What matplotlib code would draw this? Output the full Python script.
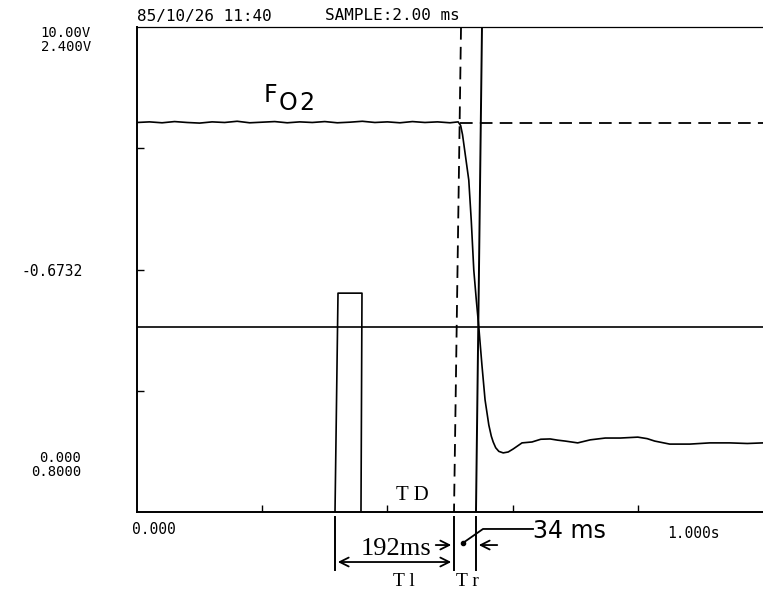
import matplotlib
matplotlib.use("Agg")
import matplotlib.pyplot as plt

# ---------------- data (time in s, signal in V on 0.8 .. 2.4 V scale) ----------------
t_trace = [0.000, 0.020, 0.040, 0.060, 0.080, 0.100, 0.120, 0.140, 0.160, 0.180,
           0.200, 0.220, 0.240, 0.260, 0.280, 0.300, 0.320, 0.340, 0.360, 0.380,
           0.400, 0.420, 0.440, 0.460, 0.480, 0.500, 0.513,
           0.517, 0.520, 0.524, 0.530, 0.534, 0.538, 0.542, 0.546, 0.551, 0.556,
           0.562, 0.566, 0.569, 0.573, 0.578, 0.585, 0.593, 0.601, 0.615, 0.631,
           0.645, 0.660, 0.672, 0.684, 0.704, 0.724, 0.748, 0.772, 0.800, 0.815,
           0.827, 0.851, 0.883, 0.915, 0.947, 0.975, 1.000]
v_trace = [2.085, 2.087, 2.084, 2.088, 2.085, 2.083, 2.087, 2.085, 2.089, 2.084,
           2.086, 2.088, 2.084, 2.087, 2.085, 2.088, 2.084, 2.086, 2.089, 2.085,
           2.087, 2.084, 2.088, 2.085, 2.087, 2.084, 2.087,
           2.075, 2.045, 1.985, 1.895, 1.760, 1.598, 1.500, 1.410, 1.285, 1.170,
           1.087, 1.050, 1.031, 1.012, 1.000, 0.995, 0.998, 1.008, 1.028, 1.031,
           1.040, 1.041, 1.037, 1.034, 1.028, 1.038, 1.044, 1.044, 1.047, 1.042,
           1.034, 1.024, 1.024, 1.028, 1.028, 1.026, 1.028]

# trigger pulse
t_pulse = [0.3163, 0.3211, 0.3594, 0.3578]
v_pulse = [0.800, 1.522, 1.522, 0.800]

# reference levels / markers
v_threshold = 1.410          # horizontal solid line
v_initial = 2.083            # horizontal dashed line (initial level)
t_dash_start = 0.516
t_dash_line = [0.5176, 0.5064]   # dashed vertical (top, bottom)
t_solid_line = [0.5511, 0.5415]  # solid vertical (top, bottom)

x_min, x_max = 0.0, 1.0
y_min, y_max = 0.8, 2.4
x_ticks = [0.2, 0.4, 0.6, 0.8]
y_ticks = [1.2, 1.6, 2.0]

# ---------------- figure ----------------
W, H = 763, 591
fig = plt.figure(figsize=(W / 100, H / 100), dpi=100)
ax = fig.add_axes([137 / W, 1 - 512 / H, 626 / W, 485 / H])
ax.set_xlim(x_min, x_max)
ax.set_ylim(y_min, y_max)

lw = 1.2
ax.plot(t_trace, v_trace, color="black", lw=lw)
ax.plot(t_pulse, v_pulse, color="black", lw=lw)
ax.plot([x_min, x_max], [v_threshold, v_threshold], color="black", lw=lw)
ax.plot([t_dash_start, x_max], [v_initial, v_initial], color="black", lw=1.3,
        dashes=(7, 4))
ax.plot(t_dash_line, [y_max, y_min], color="black", lw=1.3, dashes=(7, 4))
ax.plot(t_solid_line, [y_max, y_min], color="black", lw=1.4)

# extensions below the axis
ext_top, ext_bot = 0.785, 0.609
for xv in (t_pulse[0], t_dash_line[1], t_solid_line[1]):
    ax.plot([xv, xv], [ext_top, ext_bot], color="black", lw=1.4, clip_on=False)

# spines / ticks
for s in ("left", "bottom"):
    ax.spines[s].set_linewidth(1.4)
ax.spines["top"].set_linewidth(0.9)
ax.spines["right"].set_visible(False)
ax.set_xticks(x_ticks)
ax.set_yticks(y_ticks)
ax.tick_params(direction="in", length=5, width=1.0, labelbottom=False, labelleft=False)

# ---------------- annotations ----------------
def fx(px):
    return px / W

def fy(py):
    return 1 - py / H

mono = "DejaVu Sans Mono"
fig.text(fx(137), fy(16), "85/10/26 11:40", family=mono, fontsize=11.5, va="center", ha="left")
fig.text(fx(325), fy(16), "SAMPLE:2.00 ms", family=mono, fontsize=11.5, va="center", ha="left")
fig.text(fx(91), fy(33), "10.00V", family=mono, fontsize=10, va="center", ha="right")
fig.text(fx(91), fy(47), "2.400V", family=mono, fontsize=10, va="center", ha="right")
fig.text(fx(83), fy(272), "-0.6732", family=mono, fontsize=10.5, va="center", ha="right")
fig.text(fx(81), fy(458), "0.000", family=mono, fontsize=10, va="center", ha="right")
fig.text(fx(81), fy(472), "0.8000", family=mono, fontsize=10, va="center", ha="right")
fig.text(fx(132), fy(529), "0.000", family=mono, fontsize=10.5, va="center", ha="left")
fig.text(fx(667), fy(533), "1.000s", family=mono, fontsize=10.5, va="center", ha="left")

# F_O2 label
fig.text(fx(264), fy(95), "F", family="DejaVu Sans", fontsize=17, va="center", ha="left")
fig.text(fx(279), fy(103), "O", family="DejaVu Sans", fontsize=17, va="center", ha="left")
fig.text(fx(299), fy(103), "2", family="DejaVu Sans", fontsize=17, va="center", ha="left")

serif = "Liberation Serif"
fig.text(fx(412), fy(495), "T D", family=serif, fontsize=15, va="center", ha="center")
fig.text(fx(396), fy(549), "192ms", family=serif, fontsize=19, va="center", ha="center")
fig.text(fx(404), fy(581), "T l", family=serif, fontsize=14, va="center", ha="center")
fig.text(fx(467), fy(581), "T r", family=serif, fontsize=14, va="center", ha="center")
fig.text(fx(533), fy(531), "34 ms", family="DejaVu Sans", fontsize=17, va="center", ha="left")

# arrows (data coordinates)
arr = dict(arrowstyle="->", color="black", lw=1.3, mutation_scale=16)
ax.annotate("", xy=(t_pulse[0], 0.635), xytext=(t_dash_line[1], 0.635),
            arrowprops=dict(arrowstyle="<->", color="black", lw=1.3, mutation_scale=16),
            annotation_clip=False)
ax.annotate("", xy=(t_dash_line[1], 0.691), xytext=(0.4728, 0.691),
            arrowprops=arr, annotation_clip=False)
ax.annotate("", xy=(t_solid_line[1], 0.691), xytext=(0.5799, 0.691),
            arrowprops=arr, annotation_clip=False)
ax.plot([0.6326, 0.5527, 0.5208], [0.744, 0.744, 0.698], color="black", lw=1.3,
        clip_on=False)
ax.plot([0.5208], [0.698], "o", color="black", ms=3, clip_on=False)

fig.savefig("out.png", dpi=100)
